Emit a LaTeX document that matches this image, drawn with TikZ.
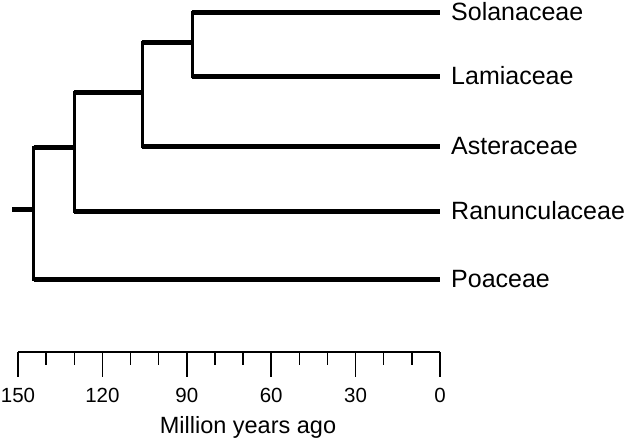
\documentclass[tikz,border=0pt]{standalone}
\usepackage{fontspec}
\setmainfont{Liberation Sans}
\begin{document}
\begin{tikzpicture}[x=1pt,y=-1pt,
  hbranch/.style={line width=5pt},
  vbranch/.style={line width=3pt,line cap=rect},
  leaf/.style={anchor=west,inner xsep=11pt,inner ysep=0pt,font=\fontsize{25}{29}\selectfont},
  axisline/.style={line width=2pt},
  majortick/.style={line width=1.6pt},
  minortick/.style={line width=1.4pt},
  ticklabel/.style={anchor=base,inner sep=0pt,font=\fontsize{20.5}{24}\selectfont},
  axistitle/.style={anchor=base,inner sep=0pt,font=\fontsize{23.5}{27}\selectfont}]
\useasboundingbox (0,0) rectangle (626,440);
% leaf labels
\node[leaf] (sol) at (440,12) {Solanaceae};
\node[leaf] (lam) at (440,76) {Lamiaceae};
\node[leaf] (ast) at (440,146) {Asteraceae};
\node[leaf] (ran) at (440,211) {Ranunculaceae};
\node[leaf] (poa) at (440,279) {Poaceae};
% internal nodes
\coordinate (n1) at (192,42);
\coordinate (n2) at (142,92);
\coordinate (n3) at (74,147);
\coordinate (n4) at (33.5,209);
\coordinate (root) at (12,209);
% verticals
\draw[vbranch] (n1 |- sol) -- (n1 |- lam);
\draw[vbranch] (n2 |- n1) -- (n2 |- ast);
\draw[vbranch] (n3 |- n2) -- (n3 |- ran);
\draw[vbranch] (n4 |- n3) -- (n4 |- poa);
% horizontals
\draw[hbranch] (n1 |- sol) -- (sol.west);
\draw[hbranch] (n1 |- lam) -- (lam.west);
\draw[hbranch] (n2 |- n1) -- (n1);
\draw[hbranch] (n2 |- ast) -- (ast.west);
\draw[hbranch] (n3 |- n2) -- (n2);
\draw[hbranch] (n3 |- ran) -- (ran.west);
\draw[hbranch] (n4 |- n3) -- (n3);
\draw[hbranch] (n4 |- poa) -- (poa.west);
\draw[hbranch] (root) -- (n4);
% axis
\coordinate (a150) at (18,352);
\coordinate (a0) at (440,352);
\draw[axisline] (a150) -- (a0);
\foreach \v in {10,20,40,50,70,80,100,110,130,140}
  \draw[minortick] ({440-2.8133*\v},352) -- ({440-2.8133*\v},365);
\foreach \v in {0,30,60,90,120,150}{
  \draw[majortick] ({440-2.8133*\v},352) -- ({440-2.8133*\v},377);
  \node[ticklabel] (t\v) at ({440-2.8133*\v},402) {\v};
}
\node[axistitle] (title) at (248,433) {Million years ago};
\end{tikzpicture}
\end{document}
